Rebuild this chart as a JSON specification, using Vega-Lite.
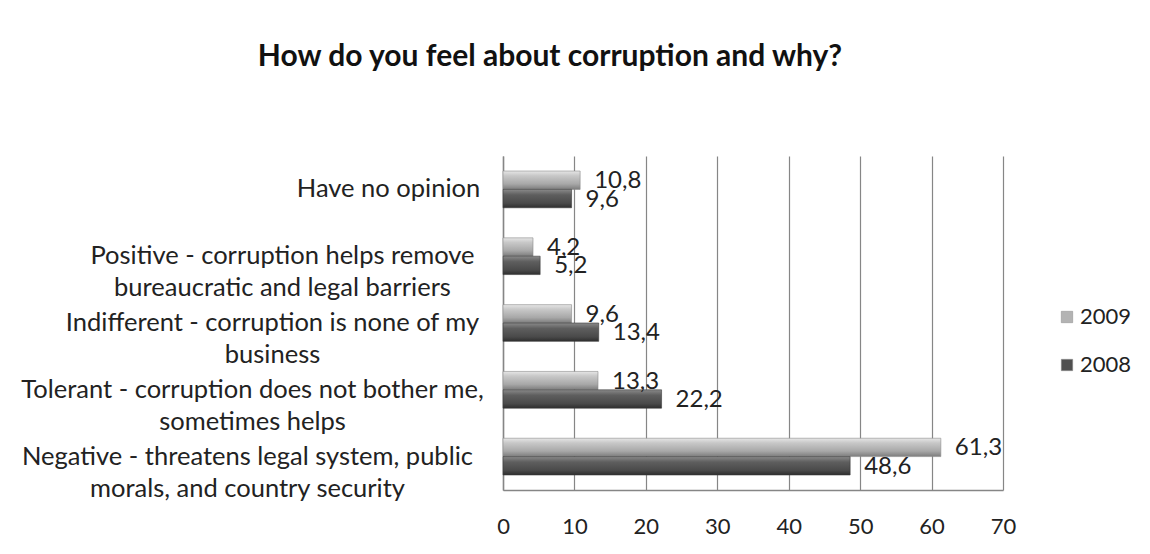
{
  "$schema": "https://vega.github.io/schema/vega-lite/v6.json",
  "autosize": {"type": "none"},
  "padding": {"left": 503, "top": 156, "right": 147, "bottom": 64},
  "width": 500,
  "height": 334,
  "background": "white",
  "title": {
    "text": "How do you feel about corruption and why?",
    "font": "Lato",
    "fontSize": 30,
    "fontWeight": "bold",
    "color": "#111111",
    "anchor": "middle",
    "frame": "group",
    "baseline": "alphabetic",
    "offset": 60,
    "dx": -203
  },
  "config": {
    "locale": {"number": {"decimal": ",", "thousands": ".", "grouping": [3], "currency": ["", ""]}},
    "view": {"stroke": null},
    "font": "Lato"
  },
  "data": {
    "values": [
      {"category": "Have no opinion", "year": "2009", "value": 10.8},
      {"category": "Have no opinion", "year": "2008", "value": 9.6},
      {"category": "Positive -  corruption helps remove|bureaucratic and legal barriers", "year": "2009", "value": 4.2},
      {"category": "Positive -  corruption helps remove|bureaucratic and legal barriers", "year": "2008", "value": 5.2},
      {"category": "Indifferent -  corruption is none of my|business", "year": "2009", "value": 9.6},
      {"category": "Indifferent -  corruption is none of my|business", "year": "2008", "value": 13.4},
      {"category": "Tolerant - corruption does not bother me,|sometimes helps", "year": "2009", "value": 13.3},
      {"category": "Tolerant - corruption does not bother me,|sometimes helps", "year": "2008", "value": 22.2},
      {"category": "Negative - threatens legal system, public|morals, and country security", "year": "2009", "value": 61.3},
      {"category": "Negative - threatens legal system, public|morals, and country security", "year": "2008", "value": 48.6}
    ]
  },
  "encoding": {
    "y": {
      "field": "category",
      "type": "nominal",
      "sort": null,
      "title": null,
      "scale": {"paddingInner": 0.45, "paddingOuter": 0.225},
      "axis": {
        "labelExpr": "split(datum.label, '|')",
        "labelFont": "Lato",
        "labelFontSize": 25.5,
        "labelColor": "#222222",
        "labelLineHeight": 32,
        "labelAlign": "center",
        "labelBaseline": "middle",
        "labelLimit": 600,
        "labelPadding": {
          "condition": [
            {"test": "datum.value == 'Have no opinion'", "value": 115},
            {"test": "indexof(datum.value, 'Positive') == 0", "value": 221},
            {"test": "indexof(datum.value, 'Indifferent') == 0", "value": 231},
            {"test": "indexof(datum.value, 'Tolerant') == 0", "value": 251}
          ],
          "value": 256
        },
        "ticks": false,
        "domainColor": "#868686",
        "domainWidth": 1.5,
        "grid": false
      }
    },
    "x": {
      "field": "value",
      "type": "quantitative",
      "title": null,
      "scale": {"domain": [0, 70], "nice": false},
      "axis": {
        "values": [0, 10, 20, 30, 40, 50, 60, 70],
        "labelFont": "Lato",
        "labelFontSize": 22,
        "labelColor": "#222222",
        "labelPadding": 26,
        "ticks": false,
        "domainColor": "#868686",
        "domainWidth": 1.5,
        "gridColor": "#868686",
        "gridWidth": 1.2,
        "labelFlush": false
      }
    },
    "yOffset": {"field": "year", "type": "nominal", "scale": {"domain": ["2009", "2008"]}}
  },
  "layer": [
    {
      "transform": [{"filter": "datum.year == '2009'"}],
      "mark": {
        "type": "bar",
        "fill": {
          "gradient": "linear", "x1": 0, "y1": 0, "x2": 0, "y2": 1,
          "stops": [
            {"offset": 0, "color": "#e6e6e6"},
            {"offset": 0.25, "color": "#c8c8c8"},
            {"offset": 0.7, "color": "#a8a8a8"},
            {"offset": 1, "color": "#7c7c7c"}
          ]
        },
        "stroke": "#8c8c8c",
        "strokeWidth": 0.6
      }
    },
    {
      "transform": [{"filter": "datum.year == '2008'"}],
      "mark": {
        "type": "bar",
        "fill": {
          "gradient": "linear", "x1": 0, "y1": 0, "x2": 0, "y2": 1,
          "stops": [
            {"offset": 0, "color": "#8a8a8a"},
            {"offset": 0.3, "color": "#5e5e5e"},
            {"offset": 0.75, "color": "#4a4a4a"},
            {"offset": 1, "color": "#2e2e2e"}
          ]
        },
        "stroke": "#3a3a3a",
        "strokeWidth": 0.6
      }
    },
    {
      "mark": {"type": "square", "opacity": 0, "size": 1},
      "encoding": {
        "fill": {
          "field": "year",
          "type": "nominal",
          "scale": {"domain": ["2009", "2008"], "range": ["#b3b3b3", "#4f4f4f"]},
          "legend": {
            "title": null,
            "orient": "none",
            "legendX": 553,
            "legendY": 150,
            "symbolType": "square",
            "symbolSize": 130,
            "symbolOpacity": 1,
            "symbolStrokeColor": "#888888",
            "symbolStrokeWidth": 0.5,
            "labelFont": "Lato",
            "labelFontSize": 22,
            "labelColor": "#222222",
            "rowPadding": 26,
            "labelOffset": 2
          }
        }
      }
    },
    {
      "mark": {"type": "text", "align": "left", "baseline": "middle", "dx": 14, "dy": 1, "font": "Lato", "fontSize": 24, "color": "#222222"},
      "encoding": {
        "text": {"field": "value", "type": "quantitative", "format": ".1f"}
      }
    }
  ]
}
